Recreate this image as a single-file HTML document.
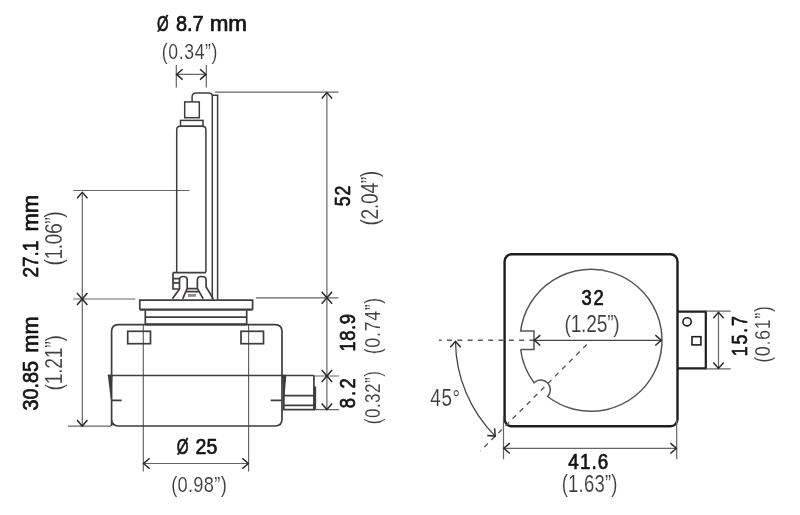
<!DOCTYPE html>
<html><head><meta charset="utf-8"><style>
html,body{margin:0;padding:0;background:#fff;}
svg{display:block;will-change:transform;}
text{font-family:"Liberation Sans", sans-serif;}
</style></head><body>
<svg width="800" height="515" viewBox="0 0 800 515">
<rect width="800" height="515" fill="#fff"/>
<path d="M176.3 65 V87.5 M206.3 65 V87.5 M176.3 74.4 H206.3" fill="none" stroke="#6a6464" stroke-width="1.2"/>
<path d="M182.60 69.20 L176.60 74.40 L182.60 79.60" fill="none" stroke="#2e2a2a" stroke-width="1.5"/>
<path d="M200.00 79.60 L206.00 74.40 L200.00 69.20" fill="none" stroke="#2e2a2a" stroke-width="1.5"/>
<path d="M215.2 92.2 H338.4 M256 297.8 H338.4 M313.9 376 H339 M313.9 409.6 H339 M326.9 92.5 V409.6" fill="none" stroke="#6a6464" stroke-width="1.2"/>
<path d="M332.10 98.60 L326.90 92.60 L321.70 98.60" fill="none" stroke="#2e2a2a" stroke-width="1.5"/>
<path d="M321.70 291.80 L326.90 297.80 L332.10 291.80" fill="none" stroke="#2e2a2a" stroke-width="1.5"/>
<path d="M332.10 303.80 L326.90 297.80 L321.70 303.80" fill="none" stroke="#2e2a2a" stroke-width="1.5"/>
<path d="M321.70 370.00 L326.90 376.00 L332.10 370.00" fill="none" stroke="#2e2a2a" stroke-width="1.5"/>
<path d="M332.10 382.00 L326.90 376.00 L321.70 382.00" fill="none" stroke="#2e2a2a" stroke-width="1.5"/>
<path d="M321.70 403.50 L326.90 409.50 L332.10 403.50" fill="none" stroke="#2e2a2a" stroke-width="1.5"/>
<path d="M73.2 190.5 H189.4 M73.2 299 H135.4 M68 426.2 H111 M82.3 192.3 V426.2" fill="none" stroke="#6a6464" stroke-width="1.2"/>
<path d="M87.50 198.30 L82.30 192.30 L77.10 198.30" fill="none" stroke="#2e2a2a" stroke-width="1.5"/>
<path d="M77.00 293.00 L82.20 299.00 L87.40 293.00" fill="none" stroke="#2e2a2a" stroke-width="1.5"/>
<path d="M87.40 305.00 L82.20 299.00 L77.00 305.00" fill="none" stroke="#2e2a2a" stroke-width="1.5"/>
<path d="M77.00 420.00 L82.20 426.00 L87.40 420.00" fill="none" stroke="#2e2a2a" stroke-width="1.5"/>
<path d="M143.3 324 V471.5 M248.6 324 V471.5 M143.3 463.5 H248.6" fill="none" stroke="#6a6464" stroke-width="1.2"/>
<path d="M149.60 458.30 L143.60 463.50 L149.60 468.70" fill="none" stroke="#2e2a2a" stroke-width="1.5"/>
<path d="M242.30 468.70 L248.30 463.50 L242.30 458.30" fill="none" stroke="#2e2a2a" stroke-width="1.5"/>
<path d="M192.1 101.9 V97 Q192.1 92.9 196 92.9 H208.5 Q212.3 92.9 212.3 96 V299.5 M212.3 95.2 H217.6 V299.5" fill="none" stroke="#403c3c" stroke-width="1.5"/>
<rect x="184.7" y="101.9" width="14.6" height="15.8" fill="none" stroke="#403c3c" stroke-width="1.5"/>
<rect x="180.5" y="120.4" width="22.5" height="5.9" fill="none" stroke="#403c3c" stroke-width="1.5"/>
<path d="M176.7 272.2 V129.8 Q176.7 126.3 180.2 126.3 H202.4 Q205.9 126.3 205.9 129.8 V272.2" fill="none" stroke="#403c3c" stroke-width="1.5"/>
<path d="M173 272.6 H206 M173 272.6 V289 H179.5 M173 278.6 H179.5 M173 282.8 H179.5" fill="none" stroke="#403c3c" stroke-width="1.7"/>
<path d="M179.5 289 L172.4 298.8 M179.5 289 V279.8 Q179.5 276.5 183.3 276.5 Q187.2 276.5 187.2 279.8 V288.4 L182.7 298.8 M197.4 288.4 V279.8 Q197.4 276.5 201.7 276.5 Q206.1 276.5 206.1 279.8 V287 L213.3 298.8 M197.4 288.4 L203.2 298.8 M187.2 288.6 H197.4 M185.8 291.6 H199" fill="none" stroke="#403c3c" stroke-width="1.7"/>
<rect x="188" y="294" width="8" height="2.8" fill="#8a8a8a"/>
<path d="M139.8 309.7 V300.1 H252.6 V309.7" fill="none" stroke="#403c3c" stroke-width="1.7"/>
<path d="M139.8 309.7 H252.6" fill="none" stroke="#403c3c" stroke-width="2.3"/>
<path d="M145.3 310.3 V324.5 M246.7 310.3 V324.5 M145.3 317.2 H246.7" fill="none" stroke="#403c3c" stroke-width="1.7"/>
<path d="M145.3 324.3 H246.7" fill="none" stroke="#403c3c" stroke-width="2.3"/>
<path d="M111.6 426 V331.5 Q111.6 324.6 118.5 324.6 H275 Q282 324.6 282 331.5 V419 Q282 426 275 426 H118.5 Q111.6 426 111.6 419" fill="none" stroke="#403c3c" stroke-width="1.7"/>
<rect x="127.7" y="331.3" width="22.8" height="12.4" fill="none" stroke="#403c3c" stroke-width="1.7"/>
<rect x="241" y="331.3" width="22.5" height="12.4" fill="none" stroke="#403c3c" stroke-width="1.7"/>
<path d="M107.8 375.5 H313.9 M111.6 400.4 H121.7 M270.7 400.4 H282" fill="none" stroke="#403c3c" stroke-width="1.7"/>
<path d="M107.8 374.8 L112.6 374.8 L110.8 400 Z M282 374.8 L286.4 374.8 L283.8 405 Z" fill="#403c3c"/>
<path d="M283.8 375.5 V409.7 H313.9 V375.5 M284 395.7 H313.9 M284 405.4 H313.9 M315.3 386.4 V409.7" fill="none" stroke="#403c3c" stroke-width="1.7"/>
<rect x="504.6" y="254.3" width="172.9" height="172" rx="7" ry="7" fill="none" stroke="#1e1e1e" stroke-width="2.4"/>
<path d="M677.5 311.7 H705.8 V368.4 H677.5" fill="none" stroke="#1e1e1e" stroke-width="2.2"/>
<circle cx="687.1" cy="321.8" r="4.1" fill="none" stroke="#1e1e1e" stroke-width="1.6"/>
<rect x="692" y="336.7" width="8.9" height="8.2" fill="none" stroke="#1e1e1e" stroke-width="1.6"/>
<path d="M520.60 349.50 A71.0 71.0 0 0 0 534.12 382.80 A9.6 9.6 0 0 1 547.59 396.48 A71.0 71.0 0 1 0 520.61 331.00 H534 V349.5 H520.60" fill="none" stroke="#5a5555" stroke-width="1.5"/>
<path d="M439 340.3 H534" fill="none" stroke="#5e5858" stroke-width="1.4" stroke-dasharray="5 5.3" stroke-dashoffset="2.3"/>
<path d="M591 340.3 L480.4 451" fill="none" stroke="#5e5858" stroke-width="1.4" stroke-dasharray="5 5" stroke-dashoffset="4"/>
<path d="M534 340.3 H661.5" fill="none" stroke="#4a4545" stroke-width="1.2"/>
<path d="M540.30 335.10 L534.30 340.30 L540.30 345.50" fill="none" stroke="#2e2a2a" stroke-width="1.5"/>
<path d="M655.30 345.50 L661.30 340.30 L655.30 335.10" fill="none" stroke="#2e2a2a" stroke-width="1.5"/>
<path d="M455.50 341.30 A135.5 135.5 0 0 0 495.19 436.11" fill="none" stroke="#4a4545" stroke-width="1.3"/>
<path d="M460.70 347.30 L455.50 341.30 L450.30 347.30" fill="none" stroke="#2e2a2a" stroke-width="1.5"/>
<path d="M487.27 435.55 L495.19 436.11 L494.62 428.19" fill="none" stroke="#2e2a2a" stroke-width="1.5"/>
<path d="M503.5 416.3 V459.2 M676.7 419 V459.2 M503.5 448.3 H676.7" fill="none" stroke="#6a6464" stroke-width="1.2"/>
<path d="M509.80 443.10 L503.80 448.30 L509.80 453.50" fill="none" stroke="#2e2a2a" stroke-width="1.5"/>
<path d="M670.40 453.50 L676.40 448.30 L670.40 443.10" fill="none" stroke="#2e2a2a" stroke-width="1.5"/>
<path d="M706 311.2 H730.7 M706 368.9 H730.7 M718.5 312 V368.4" fill="none" stroke="#6a6464" stroke-width="1.2"/>
<path d="M723.70 318.30 L718.50 312.30 L713.30 318.30" fill="none" stroke="#2e2a2a" stroke-width="1.5"/>
<path d="M713.30 362.40 L718.50 368.40 L723.70 362.40" fill="none" stroke="#2e2a2a" stroke-width="1.5"/>
<text transform="matrix(0.14970 0 0 0.22027 0 31.127)" x="1048.22" font-size="100" font-weight="normal" fill="#141414" stroke="#141414" stroke-width="3.20" stroke-linejoin="round">Ø</text>
<text transform="matrix(0.19949 0 0 0.22027 0 31.127)" x="882.01 937.63 965.41" font-size="100" font-weight="normal" fill="#141414" stroke="#141414" stroke-width="3.20" stroke-linejoin="round">8.7</text>
<text transform="matrix(0.22418 0 0 0.22027 0 31.127)" x="935.27 1018.57" font-size="100" font-weight="normal" fill="#141414" stroke="#141414" stroke-width="3.20" stroke-linejoin="round">mm</text>
<text transform="matrix(0.17627 0 0 0.22034 0 58.580)" x="917.38 954.33 1013.61 1045.05 1104.32 1163.60 1200.55" font-size="100" font-weight="normal" fill="#3e3e3e" stroke="#fff" stroke-width="0.54">(0.34”)</text>
<text transform="matrix(0.15240 0 0 0.21284 0 453.947)" x="1160.21" font-size="100" font-weight="normal" fill="#141414" stroke="#141414" stroke-width="3.20" stroke-linejoin="round">Ø</text>
<text transform="matrix(0.19581 0 0 0.21284 0 453.947)" x="999.05 1054.67" font-size="100" font-weight="normal" fill="#141414" stroke="#141414" stroke-width="3.20" stroke-linejoin="round">25</text>
<text transform="matrix(0.18305 0 0 0.22881 0 491.571)" x="935.07 969.88 1027.00 1056.29 1113.41 1170.54 1205.34" font-size="100" font-weight="normal" fill="#3e3e3e" stroke="#fff" stroke-width="0.52">(0.98”)</text>
<text transform="matrix(0.18395 0 0 0.22432 0 305.317)" x="3161.22 3227.04" font-size="100" font-weight="normal" fill="#141414" stroke="#141414" stroke-width="3.20" stroke-linejoin="round">32</text>
<text transform="matrix(0.19209 0 0 0.24011 0 331.960)" x="2938.77 2970.86 3025.26 3051.84 3106.24 3160.65 3192.74" font-size="100" font-weight="normal" fill="#3e3e3e" stroke="#fff" stroke-width="0.50">(1.25”)</text>
<text transform="matrix(0.18838 0 0 0.22973 0 469.203)" x="3017.17 3078.61 3140.05 3173.66" font-size="100" font-weight="normal" fill="#141414" stroke="#141414" stroke-width="3.20" stroke-linejoin="round">41.6</text>
<text transform="matrix(0.18531 0 0 0.23164 0 491.668)" x="3030.86 3065.35 3122.15 3151.12 3207.92 3264.72 3299.21" font-size="100" font-weight="normal" fill="#3e3e3e" stroke="#fff" stroke-width="0.52">(1.63”)</text>
<text transform="matrix(0.18870 0 0 0.23588 0 406.364)" x="2280.69 2339.56 2398.44" font-size="100" font-weight="normal" fill="#3e3e3e" stroke="#fff" stroke-width="0.51">45°</text>
<text transform="matrix(0 -0.18998 0.21622 0 37.738 0)" x="-1460.97 -1405.35 -1349.74 -1321.96" font-size="100" font-weight="normal" fill="#141414" stroke="#141414" stroke-width="3.20" stroke-linejoin="round">27.1</text>
<text transform="matrix(0 -0.22099 0.21622 0 37.738 0)" x="-1048.08 -964.78" font-size="100" font-weight="normal" fill="#141414" stroke="#141414" stroke-width="3.20" stroke-linejoin="round">mm</text>
<text transform="matrix(0 -0.19435 0.24294 0 61.757 0)" x="-1366.12 -1335.50 -1282.57 -1257.47 -1204.55 -1151.62 -1121.00" font-size="100" font-weight="normal" fill="#3e3e3e" stroke="#fff" stroke-width="0.49">(1.06”)</text>
<text transform="matrix(0 -0.19801 0.21622 0 37.738 0)" x="-2073.27 -2017.65 -1962.04 -1934.25 -1878.64" font-size="100" font-weight="normal" fill="#141414" stroke="#141414" stroke-width="3.20" stroke-linejoin="round">30.85</text>
<text transform="matrix(0 -0.21780 0.21622 0 37.738 0)" x="-1619.40 -1536.10" font-size="100" font-weight="normal" fill="#141414" stroke="#141414" stroke-width="3.20" stroke-linejoin="round">mm</text>
<text transform="matrix(0 -0.19209 0.24011 0 61.860 0)" x="-2032.85 -2000.59 -1946.01 -1919.26 -1864.68 -1810.10 -1777.84" font-size="100" font-weight="normal" fill="#3e3e3e" stroke="#fff" stroke-width="0.50">(1.21”)</text>
<text transform="matrix(0 -0.17730 0.21622 0 349.638 0)" x="-1163.17 -1102.40" font-size="100" font-weight="normal" fill="#141414" stroke="#141414" stroke-width="3.20" stroke-linejoin="round">52</text>
<text transform="matrix(0 -0.19322 0.24153 0 377.558 0)" x="-1167.05 -1135.57 -1081.78 -1055.82 -1002.03 -948.24 -916.76" font-size="100" font-weight="normal" fill="#3e3e3e" stroke="#fff" stroke-width="0.50">(2.04”)</text>
<text transform="matrix(0 -0.18395 0.22432 0 355.017 0)" x="-1911.47 -1852.44 -1793.41 -1762.22" font-size="100" font-weight="normal" fill="#141414" stroke="#141414" stroke-width="3.20" stroke-linejoin="round">18.9</text>
<text transform="matrix(0 -0.17853 0.22316 0 380.377 0)" x="-1984.57 -1947.50 -1888.13 -1856.58 -1797.20 -1737.82 -1700.76" font-size="100" font-weight="normal" fill="#3e3e3e" stroke="#fff" stroke-width="0.54">(0.74”)</text>
<text transform="matrix(0 -0.18395 0.22432 0 355.417 0)" x="-2219.70 -2152.22 -2112.57" font-size="100" font-weight="normal" fill="#141414" stroke="#141414" stroke-width="3.20" stroke-linejoin="round">8.2</text>
<text transform="matrix(0 -0.17062 0.21328 0 380.387 0)" x="-2486.55 -2450.45 -2392.04 -2361.46 -2303.05 -2244.63 -2208.54" font-size="100" font-weight="normal" fill="#3e3e3e" stroke="#fff" stroke-width="0.56">(0.32”)</text>
<text transform="matrix(0 -0.17841 0.21757 0 746.834 0)" x="-1996.43 -1930.98 -1865.53 -1827.92" font-size="100" font-weight="normal" fill="#141414" stroke="#141414" stroke-width="3.20" stroke-linejoin="round">15.7</text>
<text transform="matrix(0 -0.17966 0.22458 0 769.975 0)" x="-2019.44 -1982.60 -1923.45 -1892.13 -1832.98 -1773.82 -1736.99" font-size="100" font-weight="normal" fill="#3e3e3e" stroke="#fff" stroke-width="0.53">(0.61”)</text>
</svg>
</body></html>
